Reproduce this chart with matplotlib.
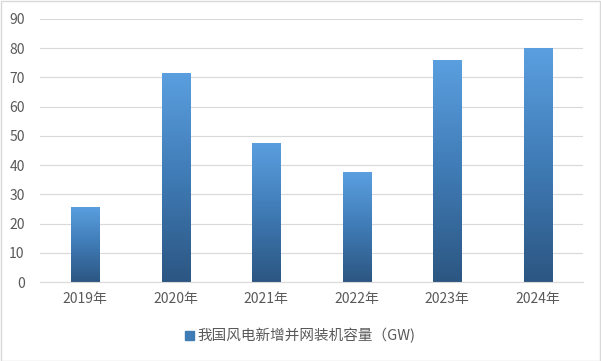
import numpy as np
import matplotlib.pyplot as plt
from matplotlib.colors import LinearSegmentedColormap
from matplotlib.patches import Rectangle

plt.rcParams['font.family'] = ['Noto Sans CJK SC', 'DejaVu Sans']

years = ['2019年', '2020年', '2021年', '2022年', '2023年', '2024年']
capacity = [25.7, 71.6, 47.6, 37.6, 76.0, 80.0]
series_name = '我国风电新增并网装机容量（GW)'

cmap = LinearSegmentedColormap.from_list('bar', ['#2c5682', '#3f7bb5', '#5b9fe0'])

fig = plt.figure(figsize=(6.01, 3.61), dpi=100)
ax = fig.add_axes([40 / 601, 79 / 361, 543 / 601, 263 / 361])

x = np.arange(len(years))
width = 0.31
bars = ax.bar(x, capacity, width=width, color='none', zorder=2)
grad = np.linspace(0, 1, 256).reshape(-1, 1)
for b in bars:
    x0, y0 = b.get_x(), b.get_y()
    w, h = b.get_width(), b.get_height()
    im = ax.imshow(grad, cmap=cmap, aspect='auto', origin='lower',
                   extent=[x0, x0 + w, y0, y0 + h], zorder=2)
    im.set_clip_path(b)

ax.set_xlim(-0.5, len(years) - 0.5)
ax.set_ylim(0, 90)
ax.set_yticks(range(0, 91, 10))
ax.set_xticks(x)
ax.set_xticklabels(years)
ax.grid(axis='y', color='#d9d9d9', linewidth=0.8, zorder=0)
ax.set_axisbelow(True)
for s in ['top', 'right', 'left']:
    ax.spines[s].set_visible(False)
ax.spines['bottom'].set_color('#d9d9d9')
ax.tick_params(axis='both', length=0, colors='#595959', labelsize=10)
ax.tick_params(axis='y', pad=11)
ax.tick_params(axis='x', pad=7)

# legend
handle = Rectangle((0, 0), 1, 1, color='#3f7bb5')
fig.legend([handle], [series_name], loc='center', bbox_to_anchor=(0.5, 25 / 361),
           frameon=False, fontsize=10.5, handlelength=0.6, handleheight=0.6,
           handletextpad=0.25, labelcolor='#595959')

fig.patches.append(Rectangle((0.001, 0.001), 0.997, 0.996, transform=fig.transFigure,
                             fill=False, edgecolor='#d9d9d9', linewidth=1))

fig.savefig('out.png', dpi=100)
